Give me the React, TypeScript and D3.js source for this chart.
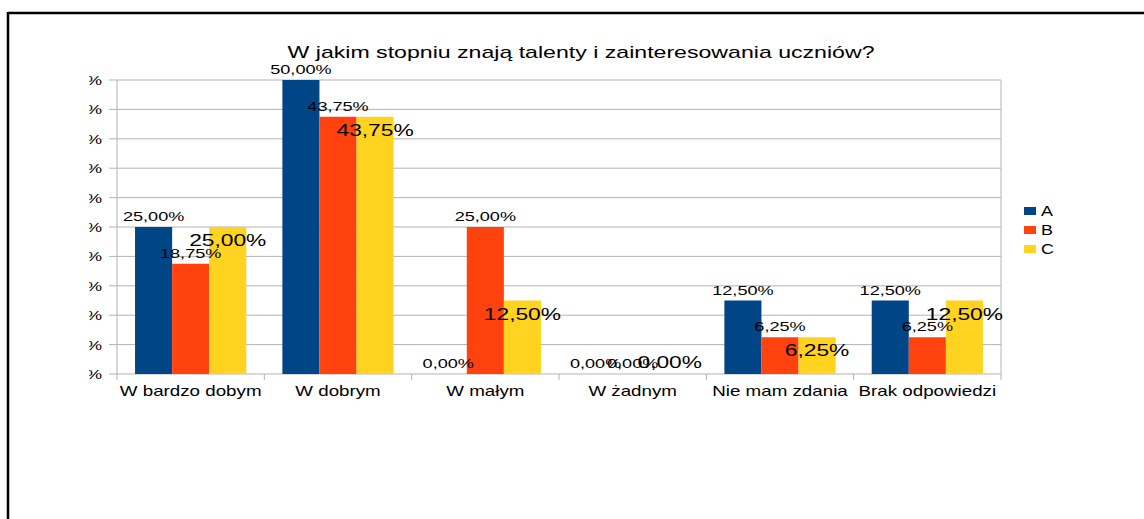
import React from 'react';
import * as d3 from 'd3';

const categories = ['W bardzo dobym', 'W dobrym', 'W małym', 'W żadnym', 'Nie mam zdania', 'Brak odpowiedzi'];
const seriesNames = ['A', 'B', 'C'];
const seriesA = [25, 50, 0, 0, 12.5, 12.5];
const seriesB = [18.75, 43.75, 25, 0, 6.25, 6.25];
const seriesC = [25, 43.75, 12.5, 0, 6.25, 12.5];
const yTicks = [0, 5, 10, 15, 20, 25, 30, 35, 40, 45, 50];
const title = 'W jakim stopniu znają talenty i zainteresowania uczniów?';

const COLORS = ['#004586', '#ff420e', '#ffd320'];
const FONT = '"Liberation Sans", Arial, sans-serif';

// the original picture is stretched sideways, so text gets a horizontal scale
function T({ x, y, size, sx = 1.38, anchor = 'middle', children, clip }: any) {
  return (
    <g clipPath={clip}>
      <text transform={`translate(${x},${y}) scale(${sx},1)`} textAnchor={anchor} fontSize={size} fill="#000">
        {children}
      </text>
    </g>
  );
}

export default function App() {
  const width = 1144;
  const height = 519;
  const margin = { top: 80, right: 143, bottom: 145, left: 117 };
  const plotW = width - margin.left - margin.right;
  const plotH = height - margin.top - margin.bottom;

  const series = [seriesA, seriesB, seriesC];

  const x0 = d3.scaleBand<string>().domain(categories).range([0, plotW]).paddingInner(0.245).paddingOuter(0.1225);
  const band = d3.scaleBand<string>().domain(categories).range([0, plotW]);
  const x1 = d3.scaleBand<string>().domain(seriesNames).range([0, x0.bandwidth()]);
  const y = d3.scaleLinear().domain([0, 50]).range([plotH, 0]);
  const fmt = (v: number) => d3.format('.2f')(v).replace('.', ',') + '%';

  return (
    <svg width={width} height={height} style={{ position: 'absolute', left: 0, top: 0, background: '#fff' }} fontFamily={FONT}>
      <defs>
        <clipPath id="yclip">
          <rect x={89} y={0} width={40} height={height} />
        </clipPath>
      </defs>
      {/* outer frame */}
      <line x1={8} x2={width} y1={13} y2={13} stroke="#000" strokeWidth={2.5} />
      <line x1={8} x2={8} y1={12} y2={height} stroke="#000" strokeWidth={2.5} />

      <T x={581} y={58} size={17} sx={1.36}>{title}</T>

      {yTicks.map((t) => (
        <T key={t} x={102} y={margin.top + y(t) + 5} size={12.5} sx={1.45} anchor="end" clip="url(#yclip)">
          {fmt(t)}
        </T>
      ))}

      <g transform={`translate(${margin.left},${margin.top})`}>
        {yTicks.map((t) => (
          <line key={t} x1={-8} x2={plotW} y1={y(t)} y2={y(t)} stroke="#b3b3b3" strokeWidth={1} />
        ))}
        <line x1={0} x2={0} y1={0} y2={plotH} stroke="#b3b3b3" />
        <line x1={plotW} x2={plotW} y1={0} y2={plotH + 6} stroke="#b3b3b3" />
        {categories.map((c) => (
          <line key={c} x1={band(c)!} x2={band(c)!} y1={plotH} y2={plotH + 6} stroke="#b3b3b3" />
        ))}

        {categories.map((c, i) => (
          <g key={c} transform={`translate(${x0(c)},0)`}>
            {series.map((s, k) => (
              <rect key={k} x={x1(seriesNames[k])} y={y(s[i])} width={x1.bandwidth()} height={plotH - y(s[i])} fill={COLORS[k]} />
            ))}
          </g>
        ))}

        {categories.map((c, i) =>
          series.map((s, k) => {
            const cx = x0(c)! + x1(seriesNames[k])! + x1.bandwidth() / 2;
            const big = k === 2;
            const ly = big ? Math.min(y(s[i]) + 19, plotH - 6) : y(s[i]) - 6;
            return (
              <T key={c + k} x={cx} y={ly} size={big ? 16.5 : 12.5} sx={big ? 1.38 : 1.45}>
                {fmt(s[i])}
              </T>
            );
          })
        )}

        {categories.map((c) => (
          <T key={'x' + c} x={band(c)! + band.bandwidth() / 2} y={plotH + 22} size={14} sx={1.34}>
            {c}
          </T>
        ))}
      </g>

      <g transform="translate(1024,207)">
        {seriesNames.map((n, k) => (
          <g key={n} transform={`translate(0,${k * 19})`}>
            <rect x={0} y={0} width={12} height={8} fill={COLORS[k]} />
            <T x={17} y={9} size={14} sx={1.28} anchor="start">{n}</T>
          </g>
        ))}
      </g>
    </svg>
  );
}
